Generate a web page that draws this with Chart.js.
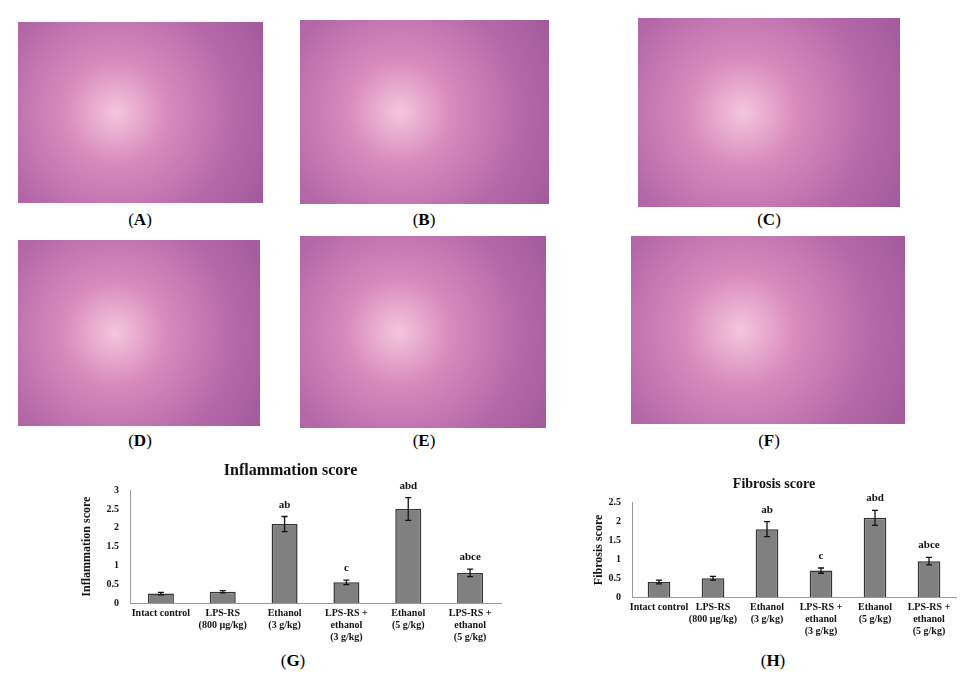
<!DOCTYPE html>
<html><head><meta charset="utf-8">
<script src="https://cdn.jsdelivr.net/npm/chart.js@4"></script>
<style>
body{margin:0;background:#fff;width:961px;height:676px;position:relative;overflow:hidden;font-family:"Liberation Serif",serif}
.img{position:absolute;background:radial-gradient(circle at 40% 50%,#f4c6dc 0,#d88abd 30%,#b468a8 70%,#a25a9c 100%)}
.lab{position:absolute;font-size:17px;transform:translateX(-50%)}
.box{position:absolute}
</style></head><body>
<div class="img" style="left:18px;top:22px;width:245px;height:181px"></div>
<div class="img" style="left:300px;top:20px;width:249px;height:184px"></div>
<div class="img" style="left:638px;top:18px;width:262px;height:189px"></div>
<div class="img" style="left:18px;top:240px;width:242px;height:186px"></div>
<div class="img" style="left:300px;top:236px;width:246px;height:192px"></div>
<div class="img" style="left:631px;top:236px;width:274px;height:188px"></div>
<div class="lab" style="left:140px;top:210px">(<b>A</b>)</div>
<div class="lab" style="left:424px;top:210px">(<b>B</b>)</div>
<div class="lab" style="left:769px;top:210px">(<b>C</b>)</div>
<div class="lab" style="left:140px;top:431px">(<b>D</b>)</div>
<div class="lab" style="left:424px;top:431px">(<b>E</b>)</div>
<div class="lab" style="left:769px;top:431px">(<b>F</b>)</div>
<div class="lab" style="left:293px;top:651px">(<b>G</b>)</div>
<div class="lab" style="left:773px;top:651px">(<b>H</b>)</div>
<div class="box" style="left:80px;top:461px;width:425px;height:186px"><canvas id="g"></canvas></div>
<div class="box" style="left:592px;top:476px;width:368px;height:165px"><canvas id="h"></canvas></div>
<script>
const categories=[["Intact control"],["LPS-RS","(800 µg/kg)"],["Ethanol","(3 g/kg)"],["LPS-RS +","ethanol","(3 g/kg)"],["Ethanol","(5 g/kg)"],["LPS-RS +","ethanol","(5 g/kg)"]];
const inflammation=[0.25,0.3,2.1,0.55,2.5,0.8];
const inflammationErr=[0.03,0.03,0.2,0.06,0.3,0.1];
const fibrosis=[0.4,0.5,1.8,0.7,2.1,0.95];
const fibrosisErr=[0.05,0.05,0.2,0.07,0.2,0.1];
const letters=["","","ab","c","abd","abce"];
const F="Liberation Serif";
const errPlugin={id:"err",afterDatasetsDraw(c){const ctx=c.ctx,ds=c.data.datasets[0],y=c.scales.y,meta=c.getDatasetMeta(0);
ctx.save();ctx.strokeStyle="#111";ctx.lineWidth=1.3;ctx.fillStyle="#111";ctx.font="bold 11px "+F;ctx.textAlign="center";
ds.data.forEach((v,i)=>{const x=meta.data[i].x,e=ds.err[i],t=y.getPixelForValue(v+e),b=y.getPixelForValue(v-e);
ctx.beginPath();ctx.moveTo(x,t);ctx.lineTo(x,b);ctx.moveTo(x-3,t);ctx.lineTo(x+3,t);ctx.moveTo(x-3,b);ctx.lineTo(x+3,b);ctx.stroke();
if(ds.letters[i])ctx.fillText(ds.letters[i],x,t-9);});ctx.restore();}};
function mk(id,title,ytitle,data,err,max,yw,tfs){
new Chart(document.getElementById(id),{type:"bar",data:{labels:categories,datasets:[{data:data,err:err,letters:letters,backgroundColor:"#808080",borderColor:"#333",borderWidth:1.5,barPercentage:0.42,categoryPercentage:1}]},
options:{responsive:true,maintainAspectRatio:false,animation:false,layout:{padding:{right:4}},
plugins:{legend:{display:false},tooltip:{enabled:false},title:{display:true,text:title,color:"#111",font:{family:F,size:tfs,weight:"bold"},padding:{top:0,bottom:10}}},
scales:{x:{grid:{display:false,drawTicks:false},border:{color:"#999"},ticks:{color:"#111",maxRotation:0,autoSkip:false,font:{family:F,size:10,weight:"bold"},padding:4}},
y:{min:0,max:max,ticks:{stepSize:0.5,color:"#111",font:{family:F,size:10,weight:"bold"},callback:v=>String(v)},grid:{display:false},border:{color:"#999"},afterFit(s){s.width=yw;},
title:{display:true,text:ytitle,color:"#111",padding:{top:0,bottom:2},font:{family:F,size:12,weight:"bold"}}}}},plugins:[errPlugin]});}
mk("g","Inflammation score","Inflammation score",inflammation,inflammationErr,3,50,16);
mk("h","Fibrosis score","Fibrosis score",fibrosis,fibrosisErr,2.5,40,14);
</script></body></html>
